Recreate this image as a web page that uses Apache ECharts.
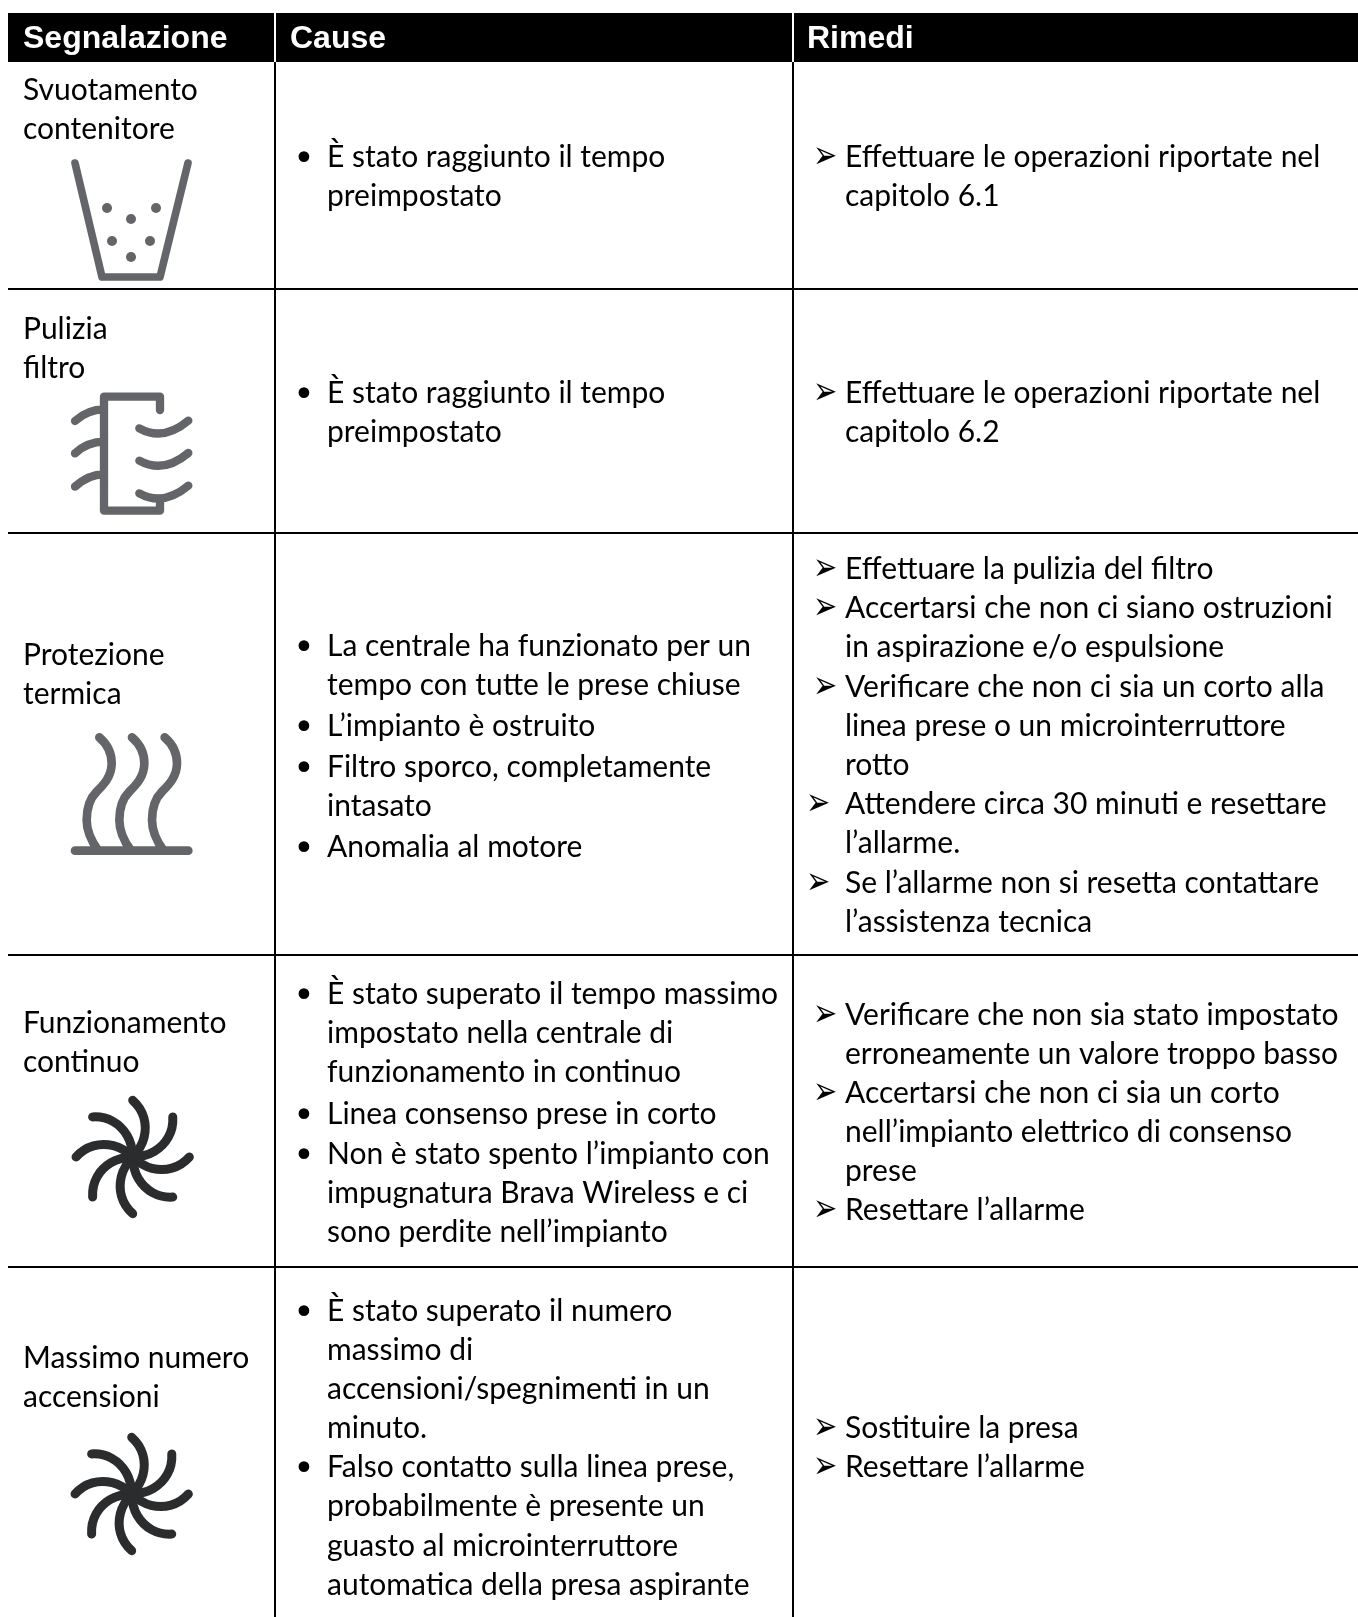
<!DOCTYPE html>
<html><head><meta charset="utf-8">
<style>html,body{margin:0;padding:0;background:#fff}#c{width:1358px;height:1617px}</style>
<script src="https://cdn.jsdelivr.net/npm/echarts@6/dist/echarts.min.js"></script></head>
<body><div id="c"></div>
<script>
const headers = ['Segnalazione', 'Cause', 'Rimedi'];
const signalLines = ['Svuotamento','contenitore','Pulizia','filtro','Protezione','termica','Funzionamento','continuo','Massimo numero','accensioni'];
const causeLines = [
 '• È stato raggiunto il tempo','preimpostato',
 '• È stato raggiunto il tempo','preimpostato',
 '• La centrale ha funzionato per un','tempo con tutte le prese chiuse','• L’impianto è ostruito','• Filtro sporco, completamente','intasato','• Anomalia al motore',
 '• È stato superato il tempo massimo','impostato nella centrale di','funzionamento in continuo','• Linea consenso prese in corto','• Non è stato spento l’impianto con','impugnatura Brava Wireless e ci','sono perdite nell’impianto',
 '• È stato superato il numero','massimo di','accensioni/spegnimenti in un','minuto.','• Falso contatto sulla linea prese,','probabilmente è presente un','guasto al microinterruttore','automatica della presa aspirante'];
const remedyLines = [
 '➢ Effettuare le operazioni riportate nel','capitolo 6.1',
 '➢ Effettuare le operazioni riportate nel','capitolo 6.2',
 '➢ Effettuare la pulizia del filtro','➢ Accertarsi che non ci siano ostruzioni','in aspirazione e/o espulsione','➢ Verificare che non ci sia un corto alla','linea prese o un microinterruttore','rotto','➣ Attendere circa 30 minuti e resettare','l’allarme.','➣ Se l’allarme non si resetta contattare','l’assistenza tecnica',
 '➢ Verificare che non sia stato impostato','erroneamente un valore troppo basso','➢ Accertarsi che non ci sia un corto','nell’impianto elettrico di consenso','prese','➢ Resettare l’allarme',
 '➢ Sostituire la presa','➢ Resettare l’allarme'];
/* layout, kept apart from the content */
const signalY = [90,129,329,368,655,694,1023,1062,1358,1397];
const causeY = [157,196,393,432,646,685,726,767,806,847,994,1033,1072,1114,1154,1193,1232,1311,1350,1389,1428,1467,1506,1546,1585];
const remedyY = [157,196,393,432,569,608,647,687,726,765,804,843,883,922,1015,1054,1093,1132,1171,1210,1428,1467];
const rowRules = [289,533,955,1267];
const colRules = [275,793];
const xHeader = [23,290,807];
const xText = [23,327,845], xMarker = [0,304,813], xMarkerWide = 806;
const TEXT_FONT = 'Lato', TEXT_SIZE = 30;
const GREY = '#636569', DARK = '#2b2c2e';

const iconBucket = {at:[0,0],color:GREY,scale:1,width:7.6,d:'M75,163L102,277L160,277L188,163',dots:[[107,208],[156,208],[131,219],[112,241],[150,241],[131,257]]};
const iconFilter = {at:[40,380],color:GREY,scale:1/3,width:25,d:'M360,90L360,50L192,50L192,392L360,392L360,360M105,123C130,100 160,88 192,88M105,220C130,197 160,185 192,185M105,320C130,297 160,283 192,283M298,145Q370,185 445,122M298,242Q370,282 445,219M298,340Q370,380 445,317'};
const iconHeat = {at:[40,720],color:GREY,scale:1/3,width:26,d:'M105,392L445,392'+[0,98,196].map(o=>`M${178+o},52C${205+o},75 ${215+o},100 ${215+o},130C${215+o},170 ${190+o},195 ${170+o},215C${150+o},235 ${140+o},265 ${140+o},300C${140+o},335 ${155+o},365 ${175+o},392`).join('')};
const swirlCentres = [[132.7,1157],[131.7,1494]];
const swirlArm = 'M0,-170C34,-140 44,-98 34,-58C29,-38 17,-18 0,0';

const textItems = [];
const pushLines = (lines, ys, col) => lines.forEach((s,i)=>{
  let marker=null, t=s;
  if (/^[•➢➣] /.test(s)) { marker=s[0]; t=s.slice(2); }
  textItems.push({x:xText[col],y:ys[i],t,marker,col});
});
pushLines(signalLines,signalY,0); pushLines(causeLines,causeY,1); pushLines(remedyLines,remedyY,2);

function renderTable(params, api){
  const P=(x,y)=>api.coord([x,y]);
  const kids=[];
  const R=(x0,y0,x1,y1,fill)=>{const a=P(x0,y0),b=P(x1,y1);kids.push({type:'rect',shape:{x:a[0],y:a[1],width:b[0]-a[0],height:b[1]-a[1]},style:{fill}});};
  R(8,13,1358,62,'#000');
  colRules.forEach(x=>{R(x-1,13,x+1,62,'#fff');R(x-1,62,x+1,1617,'#000');});
  rowRules.forEach(y=>R(8,y-1,1358,y+1,'#000'));
  headers.forEach((h,i)=>{const p=P(xHeader[i],39);kids.push({type:'text',x:p[0],y:p[1],style:{text:h,font:'bold 32px "Liberation Sans"',fill:'#fff',textAlign:'left',textVerticalAlign:'middle'}});});
  textItems.forEach(o=>{
    const p=P(o.x,o.y);
    kids.push({type:'text',x:p[0],y:p[1],style:{text:o.t,font:TEXT_SIZE+'px '+TEXT_FONT,fill:'#000',textAlign:'left',textVerticalAlign:'middle'}});
    if(o.marker==='•'){const m=P(xMarker[o.col],o.y+4);kids.push({type:'text',x:m[0],y:m[1],style:{text:'•',font:'37px "DejaVu Sans"',fill:'#000',textAlign:'center',textVerticalAlign:'middle'}});}
    else if(o.marker){const m=P(o.marker==='➣'?xMarkerWide:xMarker[o.col],o.y+1);kids.push({type:'text',x:m[0],y:m[1],scaleY:1.35,style:{text:'➢',font:'29px "DejaVu Sans"',fill:'#000',textAlign:'left',textVerticalAlign:'middle'}});}
  });
  [iconBucket,iconFilter,iconHeat].forEach(ic=>{
    const p=P(ic.at[0],ic.at[1]);
    kids.push({type:'path',x:p[0],y:p[1],scaleX:ic.scale,scaleY:ic.scale,shape:{pathData:ic.d},style:{fill:'none',stroke:ic.color,lineWidth:ic.width,lineCap:'round',lineJoin:'round'}});
    (ic.dots||[]).forEach(d=>{const q=P(d[0],d[1]);kids.push({type:'circle',shape:{cx:q[0],cy:q[1],r:5},style:{fill:ic.color}});});
  });
  swirlCentres.forEach(c=>{const p=P(c[0],c[1]);
    for(let i=0;i<8;i++)kids.push({type:'path',x:p[0],y:p[1],scaleX:1/3,scaleY:1/3,rotation:-i*Math.PI/4,shape:{pathData:swirlArm},style:{fill:'none',stroke:DARK,lineWidth:27,lineCap:'round',lineJoin:'round'}});
  });
  return {type:'group',children:kids};
}
const chart=echarts.init(document.getElementById('c'),null,{renderer:'canvas'});
chart.setOption({
  animation:false,
  grid:{left:0,right:0,top:0,bottom:0},
  xAxis:{type:'value',min:0,max:1358,show:false},
  yAxis:{type:'value',min:0,max:1617,inverse:true,show:false},
  series:[{type:'custom',coordinateSystem:'cartesian2d',clip:false,silent:true,data:[[0,0]],renderItem:renderTable}]
});
</script></body></html>
